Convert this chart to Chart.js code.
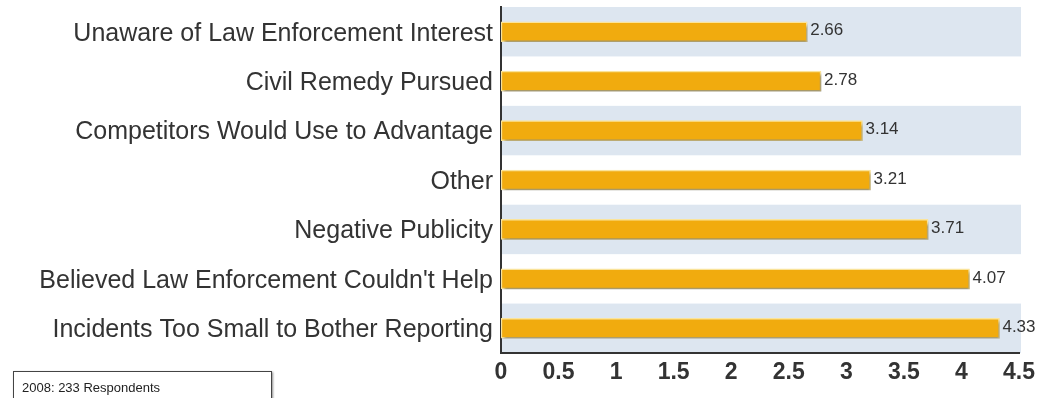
<!DOCTYPE html>
<html>
<head>
<meta charset="utf-8">
<script src="https://cdn.jsdelivr.net/npm/chart.js@4.4.1/dist/chart.umd.min.js"></script>
<style>
  html, body { margin: 0; padding: 0; background: #ffffff; }
  #wrap { position: relative; width: 1053px; height: 398px; overflow: hidden; }
  #note {
    position: absolute; left: 13px; top: 371px; width: 259px; height: 34px;
    border: 1px solid #444; box-shadow: 1px 1px 2px rgba(0,0,0,0.45);
    font: 13px "Liberation Sans", Arial, sans-serif; color: #222;
    padding: 8px 0 0 8px; box-sizing: border-box; background: #fff;
  }
</style>
</head>
<body>
<div id="wrap">
  <canvas id="c" width="1053" height="398"></canvas>
  <div id="note">2008: 233 Respondents</div>
</div>
<script>
const categories = [
  "Unaware of Law Enforcement Interest",
  "Civil Remedy Pursued",
  "Competitors Would Use to Advantage",
  "Other",
  "Negative Publicity",
  "Believed Law Enforcement Couldn't Help",
  "Incidents Too Small to Bother Reporting"
];
const values = [2.66, 2.78, 3.14, 3.21, 3.71, 4.07, 4.33];
const xTicks = [0, 0.5, 1, 1.5, 2, 2.5, 3, 3.5, 4, 4.5];

const bandPlugin = {
  id: 'bands',
  beforeDraw(chart) {
    const { ctx, chartArea, scales } = chart;
    const y = scales.y;
    const step = (chartArea.bottom - chartArea.top) / categories.length;
    ctx.save();
    ctx.fillStyle = '#dde6f0';
    categories.forEach((c, i) => {
      if (i % 2 === 0) {
        const cy = y.getPixelForValue(i);
        ctx.fillRect(chartArea.left, cy - step / 2, chartArea.right + 2 - chartArea.left, step);
      }
    });
    ctx.restore();
  },
  beforeDatasetsDraw(chart) {
    const { ctx } = chart;
    ctx.save();
    ctx.shadowColor = 'rgba(0,0,0,0.35)';
    ctx.shadowOffsetX = 2;
    ctx.shadowOffsetY = 3;
    ctx.shadowBlur = 3;
  },
  afterDatasetsDraw(chart) {
    const { ctx } = chart;
    ctx.restore();
    const meta = chart.getDatasetMeta(0);
    ctx.save();
    ctx.font = '17px "Liberation Sans", Arial, sans-serif';
    ctx.fillStyle = '#333';
    ctx.textBaseline = 'middle';
    ctx.textAlign = 'left';
    meta.data.forEach((bar, i) => {
      ctx.fillText(values[i].toFixed(2), bar.x + 3, bar.y - 1);
    });
    ctx.restore();
  }
};

new Chart(document.getElementById('c'), {
  type: 'bar',
  data: {
    labels: categories,
    datasets: [{
      data: values,
      backgroundColor: '#f1ab0e',
      borderColor: '#fbe49a',
      borderWidth: 1.5,
      barThickness: 20,
      borderSkipped: false
    }]
  },
  options: {
    indexAxis: 'y',
    responsive: false,
    animation: false,
    events: [],
    layout: { padding: { left: 0, right: 34, top: 7, bottom: 0 } },
    plugins: { legend: { display: false }, tooltip: { enabled: false } },
    scales: {
      x: {
        min: 0, max: 4.5,
        afterBuildTicks(scale) { scale.ticks = xTicks.map(v => ({ value: v })); },
        afterFit(scale) { scale.height = 45; scale.paddingLeft = 0; scale.paddingRight = 0; },
        grid: { display: false, drawTicks: false },
        border: { display: true, color: '#333', width: 2 },
        ticks: {
          padding: 6,
          color: '#333',
          font: { family: '"Liberation Sans", Arial, sans-serif', size: 23, weight: 'bold' },
          maxRotation: 0,
          autoSkip: false,
          callback: (v) => String(v)
        }
      },
      y: {
        afterFit(scale) { scale.width = 501; scale.paddingTop = 0; scale.paddingBottom = 0; },
        grid: { display: false, drawTicks: false },
        border: { display: true, color: '#333', width: 2 },
        ticks: {
          padding: 8,
          labelOffset: 2,
          color: '#333',
          font: { family: '"Liberation Sans", Arial, sans-serif', size: 25 }
        }
      }
    }
  },
  plugins: [bandPlugin]
});
</script>
</body>
</html>
